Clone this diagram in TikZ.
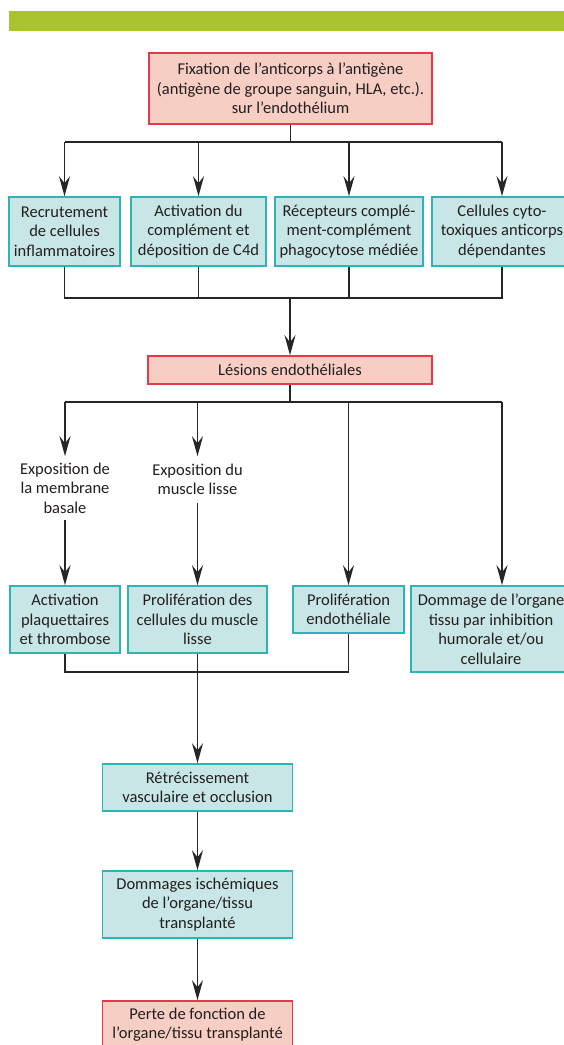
\documentclass[tikz,border=0pt]{standalone}
\usepackage{fontspec}
\setmainfont{Carlito}
\usetikzlibrary{arrows.meta}
\definecolor{pinkfill}{HTML}{F6CEC3}
\definecolor{pinkline}{HTML}{E8394B}
\definecolor{tealfill}{HTML}{C8E6E5}
\definecolor{tealline}{HTML}{2DB4B4}
\definecolor{barcol}{HTML}{A9C42C}
\definecolor{txt}{HTML}{231F20}
\tikzset{
  base/.style={align=center, inner sep=0pt, text=txt, font=\fontsize{16.5}{19.5}\selectfont, line width=1.6pt},
  pbox/.style={base, draw=pinkline, fill=pinkfill},
  tbox/.style={base, draw=tealline, fill=tealfill},
  plain/.style={base, draw=none},
  conn/.style={line width=1.8pt, draw=black!85},
  arr/.style={conn, -{Stealth[length=20pt,width=11pt,inset=7pt]}}
}
\begin{document}
\begin{tikzpicture}[x=1pt,y=-1pt]
\useasboundingbox (0,0) rectangle (564,1045);
\clip (0,0) rectangle (564,1045);
\fill[white] (0,0) rectangle (564,1045);
\fill[barcol] (9,11) rectangle (570,31);

\node[pbox, minimum width=283, minimum height=71] (top) at (290.5,88.5)
  {Fixation de l’anticorps à l’antigène\\(antigène de groupe sanguin, HLA, etc.).\\sur l’endothélium};

\node[tbox, minimum width=111, minimum height=69] (r1a) at (64.5,231.5)
  {Recrutement\\de cellules\\inflammatoires};
\node[tbox, minimum width=135, minimum height=69] (r1b) at (198.5,231.5)
  {Activation du\\complément et\\déposition de C4d};
\node[tbox, minimum width=148, minimum height=69] (r1c) at (349,231.5)
  {Récepteurs complé-\\ment-complément\\phagocytose médiée};
\node[tbox, minimum width=140, minimum height=69] (r1d) at (502,231.5)
  {Cellules cyto-\\toxiques anticorps\\dépendantes};

\node[pbox, minimum width=284, minimum height=28] (les) at (290,370)
  {Lésions endothéliales};

\node[plain, minimum height=62] (e1) at (65,488)
  {Exposition de\\la membrane\\basale};
\node[plain, minimum height=45] (e2) at (197.5,479.5)
  {Exposition du\\muscle lisse};

\node[tbox, minimum width=110, minimum height=67] (r2a) at (65,619.5)
  {Activation\\plaquettaires\\et thrombose};
\node[tbox, minimum width=139, minimum height=67] (r2b) at (197.5,619.5)
  {Prolifération des\\cellules du muscle\\lisse};
\node[tbox, minimum width=111, minimum height=47] (r2c) at (348.5,609.5)
  {Prolifération\\endothéliale};
\node[tbox, minimum width=160, minimum height=86] (r2d) at (491,629)
  {Dommage de l’organe\\tissu par inhibition\\humorale et/ou\\cellulaire};

\node[tbox, minimum width=190, minimum height=47] (ret) at (197.5,787.5)
  {Rétrécissement\\vasculaire et occlusion};
\node[tbox, minimum width=190, minimum height=67] (dom) at (197.5,904.5)
  {Dommages ischémiques\\de l’organe/tissu\\transplanté};
\node[pbox, minimum width=190, minimum height=47] (perte) at (197.5,1024.5)
  {Perte de fonction de\\l’organe/tissu transplanté};

% top fan-out
\coordinate (b1) at (290.5,142);
\draw[conn] (top.south) -- (b1);
\draw[conn] (r1a.north |- b1) -- (r1d.north |- b1);
\foreach \n in {r1a,r1b,r1c,r1d} \draw[arr] (\n.north |- b1) -- (\n.north);

% fan-in to lesions
\coordinate (b2) at (290,298);
\draw[conn] (r1a.south) -- (r1a.south |- b2) -- (r1d.south |- b2) -- (r1d.south);
\draw[conn] (r1b.south) -- (r1b.south |- b2);
\draw[conn] (r1c.south) -- (r1c.south |- b2);
\draw[arr] (b2) -- (les.north);

% lesions fan-out
\coordinate (b3) at (290,402);
\coordinate (c3) at (348.5,402);
\coordinate (c4) at (502,402);
\draw[conn] (les.south) -- (b3);
\draw[conn] (e1.north |- b3) -- (c4);
\draw[arr] (e1.north |- b3) -- (e1.north);
\draw[arr] (e2.north |- b3) -- (e2.north);
\draw[arr] (c3) -- (r2c.north);
\draw[arr] (c4) -- (c4 |- r2d.north);
\draw[arr] (e1.south) -- (r2a.north);
\draw[arr] (e2.south) -- (r2b.north);

% fan-in to narrowing
\coordinate (b4) at (197.5,672);
\draw[conn] (r2a.south) -- (r2a.south |- b4) -- (r2c.south |- b4) -- (r2c.south);
\draw[arr] (r2b.south) -- (ret.north);
\draw[arr] (ret.south) -- (dom.north);
\draw[arr] (dom.south) -- (perte.north);
\end{tikzpicture}
\end{document}
